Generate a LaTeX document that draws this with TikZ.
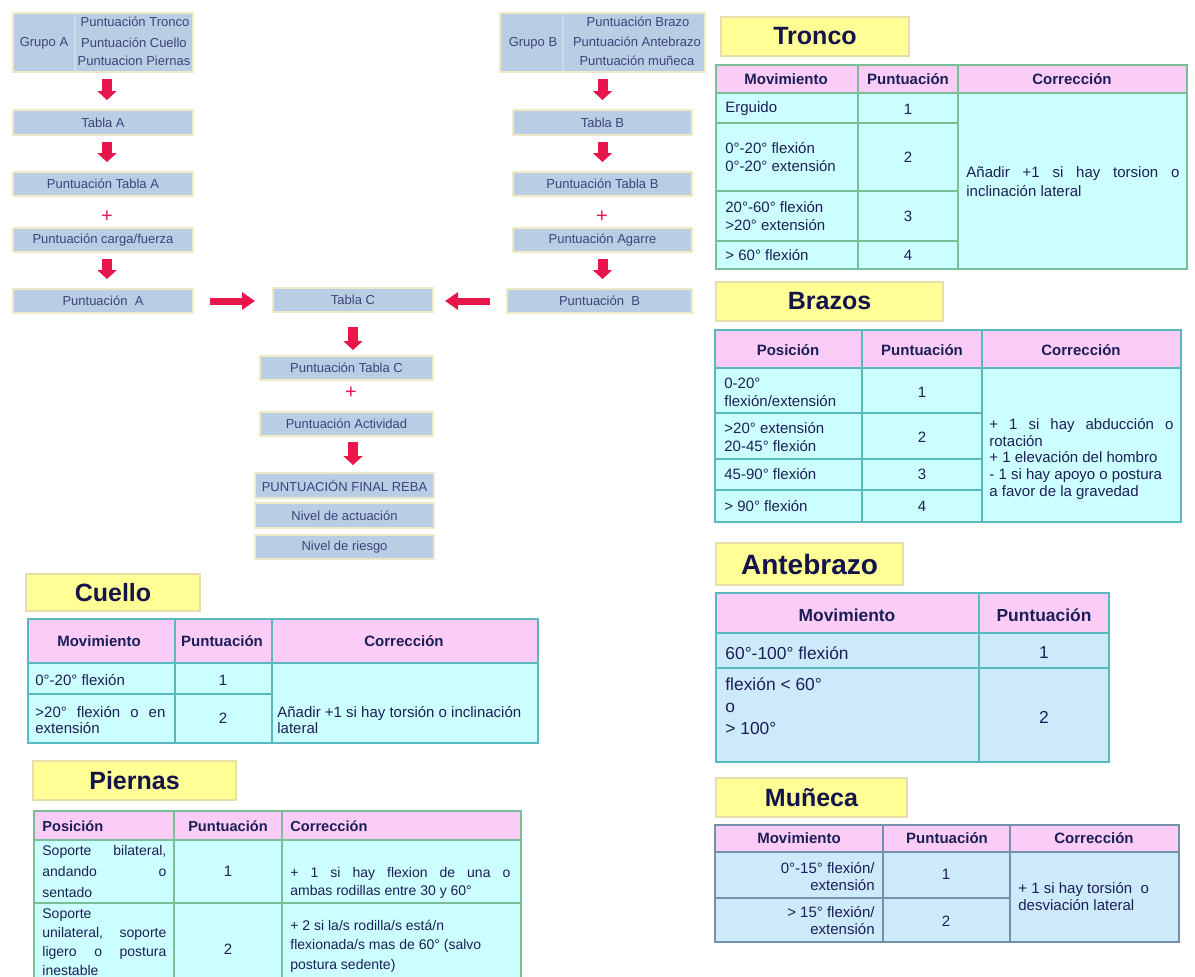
\documentclass[tikz,border=0pt]{standalone}
\usepackage{fontspec}
\setmainfont{Liberation Sans}
\usetikzlibrary{arrows.meta}
\definecolor{flowfill}{RGB}{185,205,229}
\definecolor{flowedge}{RGB}{238,234,200}
\definecolor{flowdiv}{RGB}{205,218,236}
\definecolor{flowink}{RGB}{58,70,120}
\definecolor{arrowred}{RGB}{232,22,75}
\definecolor{titlefill}{RGB}{255,255,150}
\definecolor{titleedge}{RGB}{232,222,170}
\definecolor{titleink}{RGB}{20,20,75}
\definecolor{headpink}{RGB}{250,204,246}
\definecolor{bodycyan}{RGB}{204,255,255}
\definecolor{bodyblue}{RGB}{204,234,250}
\definecolor{gridgreen}{RGB}{120,190,150}
\definecolor{gridteal}{RGB}{90,185,190}
\definecolor{gridslate}{RGB}{115,145,170}
\definecolor{cellink}{RGB}{28,30,88}

\begin{document}
\begin{tikzpicture}[x=0.5pt,y=-0.5pt,
  flowbox/.style={draw=flowedge, fill=flowfill, line width=0.75pt, inner sep=0pt, outer sep=0pt,
    font=\fontsize{6.5}{7.5}\selectfont, text=flowink, minimum height=12.5pt},
  flowtext/.style={font=\fontsize{6.5}{7.5}\selectfont, text=flowink, inner sep=0pt},
  downarrow/.style={draw=arrowred, line width=5pt, -{Triangle[width=9.5pt,length=4.5pt]},
    shorten <=3.5pt, shorten >=5pt},
  sidearrow/.style={draw=arrowred, line width=3.5pt, -{Triangle[width=8.5pt,length=6.5pt]}},
  plussign/.style={text=arrowred, font=\fontsize{10}{10}\selectfont, inner sep=0pt},
  titlebox/.style={draw=titleedge, fill=titlefill, line width=0.6pt, inner sep=0pt,
    font=\bfseries\fontsize{12.5}{14}\selectfont, text=titleink},
  hdr/.style={font=\bfseries\fontsize{7.5}{9}\selectfont, text=cellink, inner sep=0pt},
  cell/.style={font=\fontsize{7.5}{9}\selectfont, text=cellink, inner sep=0pt, align=left},
  num/.style={font=\fontsize{7.5}{9}\selectfont, text=cellink, inner sep=0pt},
  gridg/.style={draw=gridgreen, line width=0.6pt},
  gridt/.style={draw=gridteal, line width=0.6pt},
  grids/.style={draw=gridslate, line width=0.6pt},
]
\useasboundingbox (0,0) rectangle (1195,976);
\clip (0,0) rectangle (1195,976);
\fill[white] (0,0) rectangle (1195,976);

% ---------------- flow chart: group A ----------------
\node[flowbox, minimum width=90pt, minimum height=29.5pt] (ga) at (103,42.5) {};
\draw[flowdiv, line width=0.6pt] (75,14) -- (75,71);
\node[flowtext] (ga-l) at (44,43) {Grupo A};
\node[flowtext] (ga-1) at (135,22) {Puntuación Tronco};
\node[flowtext] (ga-2) at (134,43) {Puntuación Cuello};
\node[flowtext] (ga-3) at (134,61) {Puntuacion Piernas};
\node[flowbox, minimum width=90pt] (ta) at (103,122.5) {Tabla A};
\node[flowbox, minimum width=90pt, minimum height=12pt] (pta) at (103,184) {Puntuación Tabla A};
\node[plussign] (pl1) at (107,217) {+};
\node[flowbox, minimum width=90pt, minimum height=12pt] (pcf) at (103,240) {Puntuación carga/fuerza};
\node[flowbox, minimum width=90pt, minimum height=12pt] (pa) at (103,301) {Puntuación\ \ A};

% ---------------- flow chart: group B ----------------
\node[flowbox, minimum width=102.5pt, minimum height=29.5pt] (gb) at (602.5,42.5) {};
\draw[flowdiv, line width=0.6pt] (563,14) -- (563,71);
\node[flowtext] (gb-l) at (533,43) {Grupo B};
\node[flowtext] (gb-1) at (638,22) {Puntuación Brazo};
\node[flowtext] (gb-2) at (637,42) {Puntuación Antebrazo};
\node[flowtext] (gb-3) at (637,61) {Puntuación muñeca};
\node[flowbox, minimum width=89.5pt] (tb) at (602.5,122.5) {Tabla B};
\node[flowbox, minimum width=89.5pt, minimum height=12pt] (ptb) at (602.5,184) {Puntuación Tabla B};
\node[plussign] (pl2) at (602,217) {+};
\node[flowbox, minimum width=89.5pt, minimum height=12pt] (pag) at (602.5,240) {Puntuación Agarre};
\node[flowbox, minimum width=92.5pt, minimum height=12pt] (pb) at (599.5,301) {Puntuación\ \ B};

% ---------------- flow chart: table C ----------------
\node[flowbox, minimum width=80pt, minimum height=12pt] (tc) at (353,300) {Tabla C};
\node[flowbox, minimum width=86.5pt, minimum height=12pt] (ptc) at (346.5,368) {Puntuación Tabla C};
\node[plussign] (pl3) at (351,393) {+};
\node[flowbox, minimum width=86.5pt, minimum height=12pt] (pact) at (346.5,424) {Puntuación Actividad};
\node[flowbox, minimum width=89.5pt] (fin) at (344.5,485.5) {PUNTUACIÓN FINAL REBA};
\node[flowbox, minimum width=89.5pt] (nact) at (344.5,515.5) {Nivel de actuación};
\node[flowbox, minimum width=89.5pt, minimum height=12pt] (nrie) at (344.5,547) {Nivel de riesgo};

% arrows
\draw[downarrow] ([xshift=2pt]ga.south) -- ([xshift=2pt]ta.north);
\draw[downarrow] ([xshift=2pt]ta.south) -- ([xshift=2pt]pta.north);
\draw[downarrow] ([xshift=2pt]pcf.south) -- ([xshift=2pt]pa.north);
\draw[downarrow] (gb.south) -- (tb.north);
\draw[downarrow] (tb.south) -- (ptb.north);
\draw[downarrow] (pag.south) -- (pag.south |- pb.north);
\draw[sidearrow, shorten <=8.5pt, shorten >=9pt] (pa.east) -- (pa.east -| tc.west);
\draw[sidearrow, shorten <=8.5pt, shorten >=6pt] (pb.west) -- (pb.west -| tc.east);
\draw[downarrow, shorten <=7.5pt, shorten >=3pt] (tc.south) -- (tc.south |- ptc.north);
\draw[downarrow, shorten <=3pt, shorten >=4pt] (pact.south -| tc.south) -- (fin.north -| tc.south);

% ---------------- Tronco ----------------
\node[titlebox, minimum width=94pt, minimum height=19.5pt] (t-tronco) at (815,36.5) {Tronco};
\fill[headpink] (716,65) rectangle (1187,93);
\fill[bodycyan] (716,93) rectangle (1187,269);
\draw[gridg] (716,65) rectangle (1187,269);
\draw[gridg] (858,65) -- (858,269) (958,65) -- (958,269) (716,93) -- (1187,93)
  (716,123) -- (958,123) (716,191) -- (958,191) (716,241) -- (958,241);
\node[hdr] (tr-h1) at (786,79) {Movimiento};
\node[hdr] (tr-h2) at (908,79) {Puntuación};
\node[hdr] (tr-h3) at (1072,79) {Corrección};
\node[cell, anchor=west] (tr-a1) at (725,109) {Erguido};
\node[cell, anchor=west] (tr-a2) at (725,157) {0°-20° flexión\\0°-20° extensión};
\node[cell, anchor=west] (tr-a3) at (725,216) {20°-60° flexión\\>20° extensión};
\node[cell, anchor=west] (tr-a4) at (725,255) {> 60° flexión};
\node[num] (tr-n1) at (908,109) {1};
\node[num] (tr-n2) at (908,157) {2};
\node[num] (tr-n3) at (908,216) {3};
\node[num] (tr-n4) at (908,255) {4};
\node[cell, anchor=west, text width=106.5pt, align=justify,
  font=\fontsize{7.5}{9.5}\selectfont] (tr-c) at (966,182)
  {Añadir +1 si hay torsion o\linebreak inclinación lateral};

% ---------------- Brazos ----------------
\node[titlebox, minimum width=113.5pt, minimum height=19.5pt] (t-brazos) at (829.5,301.5) {Brazos};
\fill[headpink] (715,330) rectangle (1181,368);
\fill[bodycyan] (715,368) rectangle (1181,522);
\draw[gridt] (715,330) rectangle (1181,522);
\draw[gridt] (862,330) -- (862,522) (982,330) -- (982,522) (715,368) -- (1181,368)
  (715,413) -- (982,413) (715,459) -- (982,459) (715,490) -- (982,490);
\node[hdr] (br-h1) at (788,350) {Posición};
\node[hdr] (br-h2) at (922,350) {Puntuación};
\node[hdr] (br-h3) at (1081,350) {Corrección};
\node[cell, anchor=west] (br-a1) at (724,392) {0-20°\\flexión/extensión};
\node[cell, anchor=west] (br-a2) at (724,437) {>20° extensión\\20-45° flexión};
\node[cell, anchor=west] (br-a3) at (724,474) {45-90° flexión};
\node[cell, anchor=west] (br-a4) at (724,506) {> 90° flexión};
\node[num] (br-n1) at (922,392) {1};
\node[num] (br-n2) at (922,437) {2};
\node[num] (br-n3) at (922,474) {3};
\node[num] (br-n4) at (922,506) {4};
\node[cell, anchor=west, text width=92pt, align=justify,
  font=\fontsize{7.5}{8.4}\selectfont] (br-c) at (989,459)
  {+ 1 si hay abducción o\linebreak rotación\\+ 1 elevación del hombro\\- 1 si hay apoyo o postura\\a favor de la gravedad};

% ---------------- Antebrazo ----------------
\node[titlebox, minimum width=93.5pt, minimum height=21pt,
  font=\bfseries\fontsize{14}{16}\selectfont] (t-ante) at (809.5,564) {Antebrazo};
\fill[headpink] (716,593) rectangle (1109,633);
\fill[bodyblue] (716,633) rectangle (1109,762);
\draw[gridt] (716,593) rectangle (1109,762);
\draw[gridt] (979,593) -- (979,762) (716,633) -- (1109,633) (716,668) -- (1109,668);
\node[hdr, font=\bfseries\fontsize{8.7}{11}\selectfont] (ab-h1) at (847,615) {Movimiento};
\node[hdr, font=\bfseries\fontsize{8.7}{11}\selectfont] (ab-h2) at (1044,615) {Puntuación};
\node[cell, anchor=west, font=\fontsize{8.7}{11}\selectfont] (ab-a1) at (725,653) {60°-100° flexión};
\node[cell, anchor=west, font=\fontsize{8.7}{11}\selectfont] (ab-a2) at (725,706) {flexión < 60°\\o\\> 100°};
\node[num, font=\fontsize{8.7}{11}\selectfont] (ab-n1) at (1044,653) {1};
\node[num, font=\fontsize{8.7}{11}\selectfont] (ab-n2) at (1044,717) {2};

% ---------------- Muñeca ----------------
\node[titlebox, minimum width=95.5pt, minimum height=19.5pt] (t-muneca) at (811.5,797.5) {Muñeca};
\fill[headpink] (715,825) rectangle (1179,852);
\fill[bodyblue] (715,852) rectangle (1179,942);
\draw[grids] (715,825) rectangle (1179,942);
\draw[grids] (883,825) -- (883,942) (1010,825) -- (1010,942) (715,852) -- (1179,852)
  (715,898) -- (1010,898);
\node[hdr] (mu-h1) at (799,838) {Movimiento};
\node[hdr] (mu-h2) at (947,838) {Puntuación};
\node[hdr] (mu-h3) at (1094,838) {Corrección};
\node[cell, anchor=east, align=right, font=\fontsize{7.5}{8.5}\selectfont] (mu-a1) at (875,877) {0°-15° flexión/\\extensión};
\node[cell, anchor=east, align=right, font=\fontsize{7.5}{8.5}\selectfont] (mu-a2) at (875,921) {> 15° flexión/\\extensión};
\node[num] (mu-n1) at (946,874) {1};
\node[num] (mu-n2) at (946,921) {2};
\node[cell, anchor=west, font=\fontsize{7.5}{8.5}\selectfont] (mu-c) at (1018,897) {+ 1 si hay torsión\ \ o\\desviación lateral};

% ---------------- Cuello ----------------
\node[titlebox, minimum width=87pt, minimum height=18.5pt] (t-cuello) at (113,592.5) {Cuello};
\fill[headpink] (28,619) rectangle (538,663);
\fill[bodycyan] (28,663) rectangle (538,743);
\draw[gridt] (28,619) rectangle (538,743);
\draw[gridt] (175,619) -- (175,743) (272,619) -- (272,743) (28,663) -- (538,663)
  (28,694) -- (272,694);
\node[hdr] (cu-h1) at (99,641) {Movimiento};
\node[hdr] (cu-h2) at (222,641) {Puntuación};
\node[hdr] (cu-h3) at (404,641) {Corrección};
\node[cell, anchor=west] (cu-a1) at (35,680) {0°-20° flexión};
\node[cell, anchor=west, text width=65pt, align=justify, font=\fontsize{7.5}{7.6}\selectfont] (cu-a2) at (35,720)
  {>20° flexión o en\linebreak extensión};
\node[num] (cu-n1) at (223,680) {1};
\node[num] (cu-n2) at (223,718) {2};
\node[cell, anchor=west, font=\fontsize{7.5}{7.6}\selectfont] (cu-c) at (277,720)
  {Añadir +1 si hay torsión o inclinación\\lateral};

% ---------------- Piernas ----------------
\node[titlebox, minimum width=101.5pt, minimum height=19.5pt] (t-piernas) at (134.5,780.5) {Piernas};
\fill[headpink] (34,811) rectangle (521,840);
\fill[bodycyan] (34,840) rectangle (521,1000);
\draw[gridg] (34,1000) -- (34,811) -- (521,811) -- (521,1000);
\draw[gridg] (174,811) -- (174,1000) (282,811) -- (282,1000) (34,840) -- (521,840)
  (34,903) -- (521,903);
\node[hdr, anchor=west, font=\bfseries\fontsize{7.3}{9}\selectfont] (pi-h1) at (42,826) {Posición};
\node[hdr, font=\bfseries\fontsize{7.3}{9}\selectfont] (pi-h2) at (228,826) {Puntuación};
\node[hdr, anchor=west, font=\bfseries\fontsize{7.3}{9}\selectfont] (pi-h3) at (290,826) {Corrección};
\node[cell, anchor=west, text width=62pt, align=justify, font=\fontsize{7}{10.5}\selectfont] (pi-a1) at (42,871)
  {Soporte bilateral,\linebreak andando o\linebreak sentado};
\node[cell, anchor=west, text width=62pt, align=justify, font=\fontsize{7}{9.5}\selectfont] (pi-a2) at (42,942)
  {Soporte\linebreak unilateral, soporte\linebreak ligero o postura\linebreak inestable};
\node[num] (pi-n1) at (228,871) {1};
\node[num] (pi-n2) at (228,949) {2};
\node[cell, anchor=west, text width=110pt, align=justify, font=\fontsize{7}{9}\selectfont] (pi-c1) at (290,883)
  {+ 1 si hay flexion de una o\linebreak ambas rodillas entre 30 y 60°};
\node[cell, anchor=west, font=\fontsize{7}{9.75}\selectfont] (pi-c2) at (290,946)
  {+ 2 si la/s rodilla/s está/n\\flexionada/s mas de 60° (salvo\\postura sedente)};
\end{tikzpicture}
\end{document}
